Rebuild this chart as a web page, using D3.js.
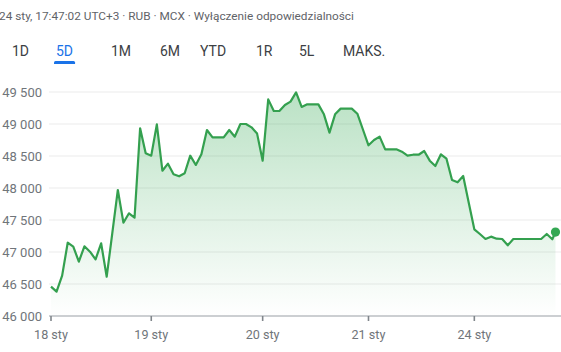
<!DOCTYPE html>
<html><head><meta charset="utf-8">
<script src="https://cdn.jsdelivr.net/npm/d3@7"></script>
<style>
html,body{margin:0;padding:0;background:#fff;overflow:hidden}
svg{display:block;font-family:Roboto,Arial,sans-serif}
</style></head>
<body>
<svg id="c" width="561" height="352"></svg>
<script>
const headerText = "24 sty, 17:47:02 UTC+3 · RUB · MCX · Wyłączenie odpowiedzialności";
const tabs = ["1D","5D","1M","6M","YTD","1R","5L","MAKS."];
const activeTab = "5D";
const dayLabels = ["18 sty","19 sty","20 sty","21 sty","24 sty"];
const dayStartIndex = [0,18,38,57,76];
const yTicks = [46000,46500,47000,47500,48000,48500,49000,49500];
// point index (30-minute steps, non-trading time removed); last point is a partial step
const steps = d3.range(0,91).concat([90.57]);
const prices = [
46458,46380,46630,47145,47083,46850,47089,47005,46885,47136,
46614,47290,47969,47458,47605,47536,48932,48542,48505,48995,
48270,48380,48214,48183,48230,48505,48360,48526,48906,48792,
48792,48792,48906,48802,49000,49000,48948,48850,48427,49385,
49203,49203,49297,49349,49495,49266,49307,49307,49307,49151,
48865,49151,49240,49240,49240,49161,48914,48667,48750,48802,
48604,48604,48604,48567,48505,48520,48520,48578,48427,48344,
48526,48458,48125,48089,48188,47770,47354,47281,47203,47240,
47208,47203,47104,47203,47203,47203,47203,47203,47203,47281,
47198,47312];

const svg = d3.select("#c");
const fmt = v => d3.format(",")(v).replace(/,/g, "\u00a0");

// header
svg.append("text").attr("x",-1).attr("y",20).attr("font-size",11.8)
  .attr("fill","#5f6368").text(headerText);

// tabs
const tabX = {"1D":12,"5D":56,"1M":111,"6M":160,"YTD":200,"1R":256,"5L":299,"MAKS.":343};
tabs.forEach(t=>{
  const tx = svg.append("text").attr("x",tabX[t]).attr("y",56).attr("font-size",14)
    .attr("fill", t===activeTab ? "#1a73e8" : "#3c4043").text(t);
  if(t===activeTab){
    const w = tx.node().getComputedTextLength();
    svg.append("path")
      .attr("d",`M${tabX[t]-2},64 v-1.5 a1.5,1.5 0 0 1 1.5,-1.5 h${w+1} a1.5,1.5 0 0 1 1.5,1.5 v1.5 z`)
      .attr("fill","#1a73e8");
  }
});

const x = d3.scaleLinear().domain([0,90]).range([51,552.3]);
const y = d3.scaleLinear().domain([46000,49500]).range([316,92]);

// grid + y labels
svg.append("g").selectAll("line").data(yTicks.slice(1)).join("line")
  .attr("x1",49).attr("x2",561).attr("y1",d=>y(d)).attr("y2",d=>y(d))
  .attr("stroke","#ebebeb").attr("stroke-width",1);
svg.append("g").selectAll("text").data(yTicks).join("text")
  .attr("x",42).attr("y",d=>y(d)+4.5).attr("text-anchor","end")
  .attr("font-size",13).attr("fill","#70757a").text(d=>fmt(d));

// gradient
const defs = svg.append("defs");
const grad = defs.append("linearGradient").attr("id","g")
  .attr("gradientUnits","userSpaceOnUse").attr("x1",0).attr("x2",0).attr("y1",y(49500)).attr("y2",y(46000));
grad.append("stop").attr("offset",0).attr("stop-color","#34a853").attr("stop-opacity",0.34);
grad.append("stop").attr("offset",1).attr("stop-color","#34a853").attr("stop-opacity",0.0);

const data = steps.map((s,i)=>({s, v:prices[i]}));
const area = d3.area().x(d=>x(d.s)).y0(y(46000)).y1(d=>y(d.v));
const line = d3.line().x(d=>x(d.s)).y(d=>y(d.v));
svg.append("path").datum(data).attr("d",area).attr("fill","url(#g)");
svg.append("path").datum(data).attr("d",line).attr("fill","none")
  .attr("stroke","#34a04f").attr("stroke-width",2.2).attr("stroke-linejoin","round");

// x axis
svg.append("line").attr("x1",49).attr("x2",561).attr("y1",316).attr("y2",316)
  .attr("stroke","#9aa0a6").attr("stroke-width",1.2);
const xt = svg.append("g").selectAll("g").data(dayStartIndex).join("g");
xt.append("line").attr("x1",d=>x(d)).attr("x2",d=>x(d)).attr("y1",316).attr("y2",321)
  .attr("stroke","#80868b").attr("stroke-width",1.6);
xt.append("text").attr("x",d=>x(d)).attr("y",339).attr("text-anchor","middle")
  .attr("font-size",12.6).attr("fill","#70757a").text((d,i)=>dayLabels[i]);

// end dot
const last = data[data.length-1];
svg.append("circle").attr("cx",x(last.s)).attr("cy",y(last.v)).attr("r",4.6).attr("fill","#34a853");
</script>
</body></html>
